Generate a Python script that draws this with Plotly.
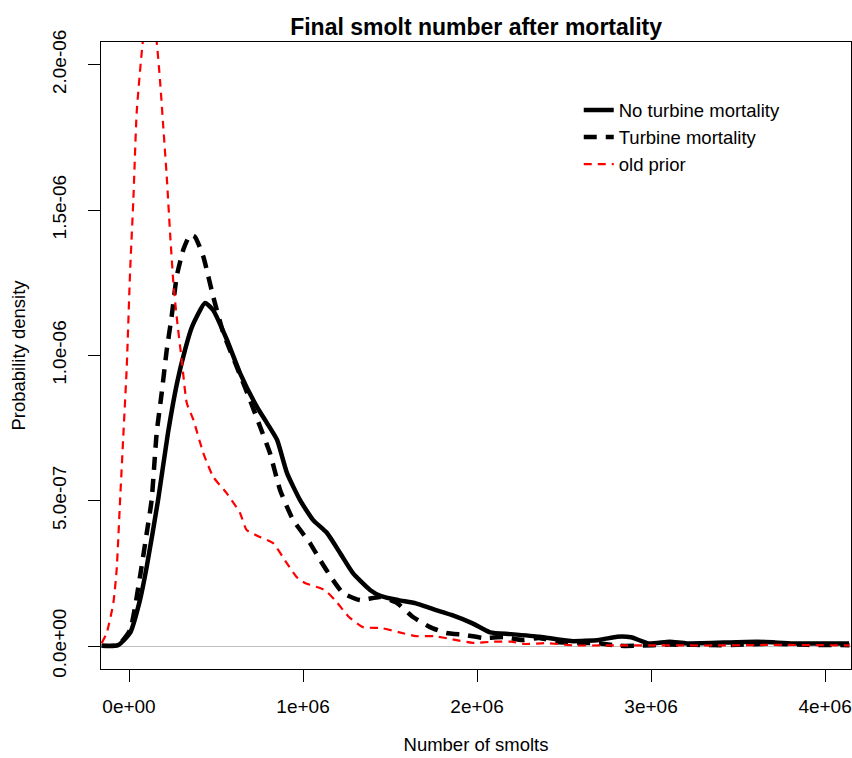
import numpy as np
import plotly.graph_objects as go

# x in millions of smolts, y in units of 1e-7
x_noturb = [-0.157, -0.063, 0.006, 0.063, 0.102, 0.167, 0.224, 0.276, 0.322, 0.362, 0.437, 0.483,
            0.563, 0.638, 0.736, 0.793, 0.851, 0.908, 0.983, 1.057, 1.138, 1.213, 1.287, 1.385,
            1.448, 1.549, 1.649, 1.752, 1.853, 1.974, 2.075, 2.195, 2.359, 2.540, 2.701, 2.805,
            2.885, 2.986, 3.107, 3.207, 3.613, 3.816, 4.138]
y_noturb = [0.01, 0.03, 0.45, 1.58, 2.73, 5.02, 7.33, 9.05, 10.19, 10.98, 11.8, 11.56,
            10.53, 9.39, 8.22, 7.67, 7.09, 5.95, 5.02, 4.34, 3.89, 3.20, 2.51, 1.93,
            1.72, 1.58, 1.47, 1.26, 1.07, 0.78, 0.47, 0.41, 0.32, 0.17, 0.21, 0.32,
            0.30, 0.09, 0.15, 0.09, 0.15, 0.09, 0.09]

x_turb = [-0.157, -0.063, 0.006, 0.063, 0.102, 0.130, 0.159, 0.188, 0.217, 0.245, 0.274, 0.312,
          0.351, 0.379, 0.427, 0.456, 0.484, 0.542, 0.619, 0.695, 0.753, 0.810, 0.868, 0.943,
          1.040, 1.098, 1.172, 1.230, 1.328, 1.443, 1.540, 1.632, 1.730, 1.822, 1.931, 2.034,
          2.155, 2.259, 2.356, 2.460, 2.580, 2.701, 2.805, 2.925, 3.1, 3.4, 3.7, 3.9, 4.14]
y_turb = [0.01, 0.03, 0.55, 2.38, 3.89, 5.02, 7.33, 8.71, 10.19, 11.33, 12.71, 13.63,
          14.14, 14.08, 13.40, 12.71, 12.02, 10.77, 9.61, 8.47, 7.55, 6.64, 5.37, 4.34,
          3.54, 2.96, 2.27, 1.82, 1.58, 1.69, 1.48, 1.00, 0.65, 0.45, 0.38, 0.28,
          0.31, 0.21, 0.28, 0.14, 0.10, 0.10, 0.01, 0.01, 0.05, 0.03, 0.08, 0.04, 0.03]

x_prior = [-0.157, -0.128, -0.090, -0.071, -0.052, -0.033, -0.013, 0.006, 0.025, 0.044, 0.073,
           0.115, 0.159, 0.178, 0.197, 0.217, 0.236, 0.255, 0.274, 0.303, 0.332, 0.370, 0.427,
           0.484, 0.561, 0.638, 0.676, 0.753, 0.828, 0.906, 0.964, 1.011, 1.124, 1.184, 1.264,
           1.345, 1.448, 1.549, 1.649, 1.753, 1.851, 1.974, 2.096, 2.195, 2.276, 2.399, 2.561,
           2.701, 3.0, 3.4, 3.7, 4.14]
y_prior = [0.10, 0.45, 1.48, 2.62, 4.92, 7.20, 9.60, 12.84, 15.35, 18.34, 20.41,
           22.5, 20.78, 19.48, 17.86, 16.14, 14.21, 12.49, 11.32, 9.84, 8.36, 7.78, 6.64,
           5.82, 5.26, 4.58, 3.99, 3.75, 3.54, 2.86, 2.37, 2.17, 1.93, 1.58, 1.00,
           0.65, 0.62, 0.48, 0.34, 0.34, 0.24, 0.11, 0.15, 0.15, 0.07, 0.10, 0.02,
           0.02, 0.02, 0.02, 0.04, 0.02]

x_ticks = [0, 1e6, 2e6, 3e6, 4e6]
x_ticktext = ["0e+00", "1e+06", "2e+06", "3e+06", "4e+06"]
y_ticks = [0, 5e-7, 1e-6, 1.5e-6, 2e-6]
y_ticktext = ["0.0e+00", "5.0e-07", "1.0e-06", "1.5e-06", "2.0e-06"]

M = 1e6
D = 1e-7
FONT = "Liberation Sans, Arial, sans-serif"

fig = go.Figure()
fig.add_trace(go.Scatter(x=np.array(x_noturb) * M, y=np.array(y_noturb) * D, mode="lines",
                         name="No turbine mortality",
                         line=dict(color="black", width=4.5, shape="spline", smoothing=0.5)))
fig.add_trace(go.Scatter(x=np.array(x_turb) * M, y=np.array(y_turb) * D, mode="lines",
                         name="Turbine mortality",
                         line=dict(color="black", width=4.5, dash="13px,9px",
                                   shape="spline", smoothing=0.5)))
fig.add_trace(go.Scatter(x=np.array(x_prior) * M, y=np.array(y_prior) * D, mode="lines",
                         name="old prior",
                         line=dict(color="red", width=2.2, dash="8px,6px",
                                   shape="spline", smoothing=0.5)))

fig.update_layout(
    width=852, height=758,
    margin=dict(l=101, r=1, t=42, b=89, autoexpand=False),
    paper_bgcolor="white", plot_bgcolor="white",
    font=dict(family=FONT, size=18.5, color="black"),
    title=dict(text="<b>Final smolt number after mortality</b>", x=0.5588, xanchor="center",
               y=0.965, yanchor="middle", font=dict(size=23, family=FONT, color="black")),
    showlegend=True,
    legend=dict(x=0.637, y=0.921, xanchor="left", yanchor="top", bgcolor="rgba(0,0,0,0)",
                font=dict(size=18.5, family=FONT), tracegroupgap=0, itemwidth=30),
)
fig.update_xaxes(range=[-0.1609 * M, 4.149 * M], tickvals=x_ticks, ticktext=x_ticktext,
                 automargin=False, tickfont=dict(size=19),
                 showgrid=False, zeroline=False, showline=True, mirror=True, linecolor="black",
                 linewidth=1, ticks="outside", ticklen=12, tickcolor="black", tickwidth=1,
                 ticklabelstandoff=8,
                 title=dict(text="Number of smolts", standoff=22, font=dict(size=18.5)))
fig.update_yaxes(range=[-0.79 * D, 20.78 * D], tickvals=y_ticks, ticktext=y_ticktext,
                 automargin=False, tickfont=dict(size=19),
                 showgrid=False, zeroline=True, zerolinecolor="#bebebe", zerolinewidth=1,
                 showline=True, mirror=True, linecolor="black", linewidth=1,
                 ticks="outside", ticklen=12, tickcolor="black", tickwidth=1,
                 tickangle=-90, ticklabelstandoff=14,
                 title=dict(text="Probability density", standoff=18, font=dict(size=18.5)))

fig.write_html("out.html", config={"displayModeBar": False},
               post_script="document.body.style.margin='0';document.body.style.overflow='hidden';")
